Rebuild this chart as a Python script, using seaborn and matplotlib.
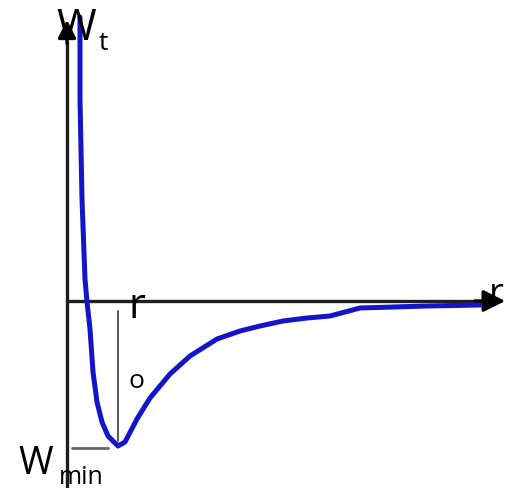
import matplotlib
matplotlib.use("Agg")
import matplotlib.pyplot as plt
import seaborn as sns
import pandas as pd

# Interatomic potential energy W_t as a function of separation r (arbitrary units)
r_values = [0.13, 0.13, 0.15, 0.18, 0.20, 0.23, 0.26, 0.30, 0.35, 0.41, 0.51, 0.58,
            0.70, 0.83, 1.03, 1.23, 1.50, 1.73, 1.93, 2.16, 2.40, 2.63, 2.93, 3.60, 4.13]
w_values = [2.84, 2.02, 1.02, 0.22, -0.01, -0.28, -0.71, -1.01, -1.21, -1.35, -1.45, -1.41,
            -1.18, -0.97, -0.73, -0.55, -0.38, -0.30, -0.25, -0.20, -0.17, -0.15, -0.07,
            -0.05, -0.04]

# Equilibrium separation and well depth
r_o = 0.51
w_min = -1.45

df = pd.DataFrame({"r": r_values, "W": w_values})

sns.set_theme(style="white")
plt.rcParams["font.family"] = ["Open Sans", "DejaVu Sans"]

fig = plt.figure(figsize=(5.10, 4.89), dpi=100)
ax = fig.add_axes([0, 0, 1, 1])
ax.set_xlim(-0.67, 4.43)
ax.set_ylim(-1.87, 3.02)
ax.axis("off")

axis_color = "#1e1e1e"

# Coordinate axes with arrow heads
ax.plot([0, 0], [-1.87, 2.6], color=axis_color, lw=2.4, solid_capstyle="butt", zorder=2)
ax.annotate("", xy=(0, 2.84), xytext=(0, 2.55),
            arrowprops=dict(arrowstyle="-|>,head_length=0.9,head_width=0.45",
                            color="black", lw=2.4), zorder=3)
ax.plot([0, 4.15], [0, 0], color=axis_color, lw=2.4, solid_capstyle="butt", zorder=2)
ax.annotate("", xy=(4.41, 0), xytext=(4.05, 0),
            arrowprops=dict(arrowstyle="-|>,head_length=1.1,head_width=0.55",
                            color="black", lw=2.4), zorder=3)

# Potential curve (points drawn in order, no aggregation)
sns.lineplot(data=df, x="r", y="W", ax=ax, color="#1414c8", lw=3.6,
             sort=False, estimator=None, errorbar=None, zorder=4)
ax.lines[-1].set_solid_joinstyle("round")
ax.lines[-1].set_solid_capstyle("round")

# Markers for r_o and W_min
ax.plot([r_o, r_o], [-0.10, w_min + 0.05], color="#555555", lw=1.4, zorder=3)
ax.plot([0.05, r_o - 0.10], [w_min - 0.02, w_min - 0.02], color="#666666", lw=2.0, zorder=3)

# Labels
ax.text(-0.11, 2.62, "W", fontsize=31, color="black", ha="left", va="baseline", zorder=5)
ax.text(0.32, 2.52, "t", fontsize=19, color="black", ha="left", va="baseline", zorder=5)
ax.text(4.22, -0.02, "r", fontsize=26, color="black", ha="left", va="baseline", zorder=5)
ax.text(0.62, -0.16, "r", fontsize=30, color="black", ha="left", va="baseline", zorder=5)
ax.text(0.61, -0.86, "o", fontsize=19, color="black", ha="left", va="baseline", zorder=5)
ax.text(-0.49, -1.72, "W", fontsize=27, color="black", ha="left", va="baseline", zorder=5)
ax.text(-0.08, -1.82, "min", fontsize=18, color="black", ha="left", va="baseline", zorder=5)

fig.savefig("out.png", dpi=100, facecolor="white")
